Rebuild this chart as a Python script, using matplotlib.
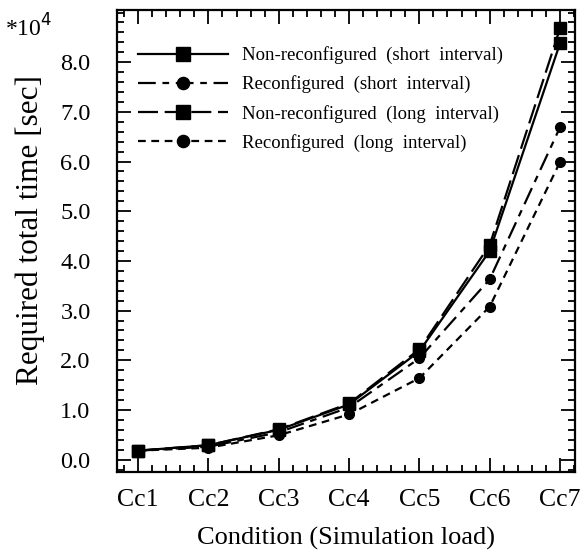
import numpy as np
import matplotlib
matplotlib.use("Agg")
import matplotlib.pyplot as plt
from matplotlib.legend_handler import HandlerLine2D
from matplotlib.ticker import MultipleLocator, AutoMinorLocator

plt.rcParams["font.family"] = ["Liberation Serif", "DejaVu Serif"]

# data (units of 10^4 sec)
conditions = ["Cc1", "Cc2", "Cc3", "Cc4", "Cc5", "Cc6", "Cc7"]
nonreconf_short = [0.18, 0.29, 0.60, 1.11, 2.18, 4.20, 8.38]
reconf_short = [0.18, 0.26, 0.55, 1.05, 2.04, 3.63, 6.69]
nonreconf_long = [0.18, 0.29, 0.61, 1.13, 2.22, 4.32, 8.68]
reconf_long = [0.18, 0.24, 0.49, 0.91, 1.64, 3.08, 5.99]

labels = ["Non-reconfigured  (short  interval)",
          "Reconfigured  (short  interval)",
          "Non-reconfigured  (long  interval)",
          "Reconfigured  (long  interval)"]


class LeftMarker(HandlerLine2D):
    # put the legend marker toward the left end of the line
    def get_xdata(self, legend, xdescent, ydescent, width, height, fontsize):
        xdata = np.array([-xdescent, -xdescent + width])
        return xdata, np.array([-xdescent + width * 0.25])


fig = plt.figure(figsize=(5.8, 5.59), dpi=100)
ax = fig.add_axes([0.2017, 0.1556, 0.7893, 0.8264])

x = np.arange(1, len(conditions) + 1)
lw = 1.6
ax.plot(x, nonreconf_short, color="black", lw=lw, ls="-", marker="s", ms=8,
        label=labels[0])
ax.plot(x, reconf_short, color="black", lw=lw, ls=(0, (8, 3, 3, 3)), marker="o", ms=7,
        label=labels[1])
ax.plot(x, nonreconf_long, color="black", lw=lw, ls=(0, (9, 3)), marker="s", ms=8,
        label=labels[2])
ax.plot(x, reconf_long, color="black", lw=lw, ls=(0, (3.5, 2.5)), marker="o", ms=7,
        label=labels[3])

ax.set_xlim(0.7, 7.21)
ax.set_ylim(-0.25, 9.05)
ax.set_xticks(x)
ax.set_xticklabels(conditions, fontsize=18.5)
ax.xaxis.set_minor_locator(AutoMinorLocator(5))
ax.yaxis.set_minor_locator(MultipleLocator(0.2))
yt = np.arange(0, 9, 1.0)
ax.set_yticks(yt)
ax.set_yticklabels([f"{v:.1f}" for v in yt], fontsize=17.5)

ax.tick_params(which="both", direction="in", top=True, right=True, width=1.3)
ax.tick_params(which="major", length=10)
ax.tick_params(which="minor", length=5)
ax.tick_params(axis="y", which="major", pad=19)
ax.tick_params(axis="x", which="major", pad=12)
for s in ax.spines.values():
    s.set_linewidth(1.6)

ax.set_xlabel("Condition (Simulation load)", fontsize=19, labelpad=12)
ax.set_ylabel("Required total time [sec]", fontsize=22.5)
ax.yaxis.set_label_coords(-0.157, 0.524)
fig.text(0.008, 0.975, "*10$^4$", fontsize=17, va="top", ha="left")

ax.legend(loc="upper left", bbox_to_anchor=(0.01, 0.958), frameon=False,
          fontsize=13.5, handlelength=4.8, handletextpad=0.7, labelspacing=0.6,
          markerscale=1.25, handler_map={matplotlib.lines.Line2D: LeftMarker()})

fig.savefig("out.png", dpi=100)
